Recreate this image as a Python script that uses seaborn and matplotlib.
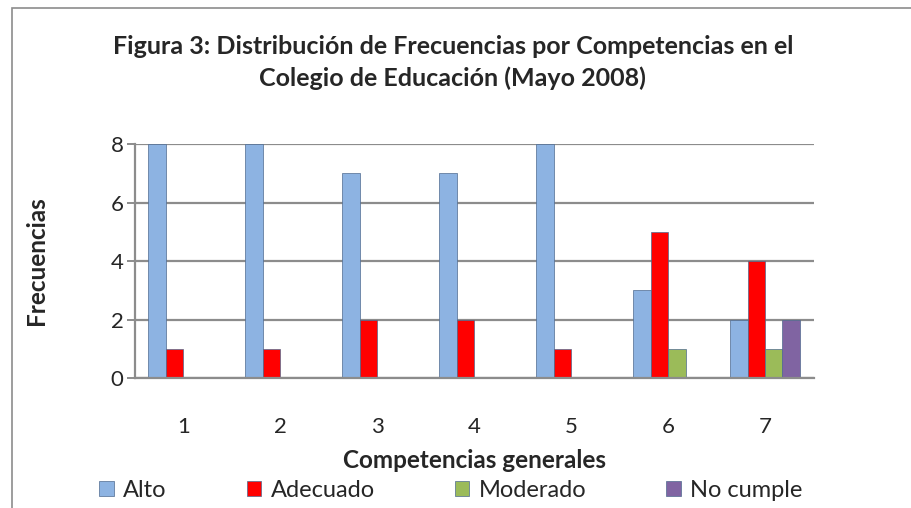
import pandas as pd
import numpy as np
import matplotlib
matplotlib.use('Agg')
import matplotlib.pyplot as plt
import seaborn as sns
from matplotlib.patches import Rectangle

# Datos
competencias = ['1', '2', '3', '4', '5', '6', '7']
alto = [8, 8, 7, 7, 8, 3, 2]
adecuado = [1, 1, 2, 2, 1, 5, 4]
moderado = [0, 0, 0, 0, 0, 1, 1]
no_cumple = [0, 0, 0, 0, 0, 0, 2]
niveles = ['Alto', 'Adecuado', 'Moderado', 'No cumple']
colores = ['#8DB3E2', '#FF0000', '#9BBB59', '#8064A2']

df = pd.DataFrame({'Competencia': competencias, 'Alto': alto, 'Adecuado': adecuado,
                   'Moderado': moderado, 'No cumple': no_cumple})
largo = df.melt(id_vars='Competencia', var_name='Nivel', value_name='Frecuencia')

sns.set_style('white')
plt.rcParams['font.family'] = ['Lato', 'DejaVu Sans']

fig = plt.figure(figsize=(9.11, 5.08), dpi=100, facecolor='white')
ax = fig.add_axes([0.148, 0.256, 0.745, 0.46])

sns.barplot(data=largo, x='Competencia', y='Frecuencia', hue='Nivel',
            hue_order=niveles, palette=colores, saturation=1, width=0.72, ax=ax,
            edgecolor='#4F6A8F', linewidth=0.5, legend=True)

# marco exterior del grafico
fig.patches.append(Rectangle((12 / 911, -0.1), 1.2, (500 / 508) + 0.1,
                             transform=fig.transFigure, fill=False,
                             edgecolor='#8C8C8C', linewidth=1.2))

ax.set_ylim(0, 8)
ax.set_xlim(-0.5, 6.5)
ax.set_yticks([0, 2, 4, 6, 8])
ax.yaxis.grid(True, color='#8C8C8C', linewidth=1.6)
ax.set_axisbelow(True)
for s in ['top', 'right']:
    ax.spines[s].set_visible(False)
for s in ['left', 'bottom']:
    ax.spines[s].set_color('#8C8C8C')
    ax.spines[s].set_linewidth(1.6)

ax.set_xticks(np.arange(-0.5, 7, 1), minor=True)
ax.tick_params(axis='x', which='major', length=0, labelsize=16, pad=28)
ax.tick_params(axis='x', which='minor', length=7, color='#8C8C8C', width=1.4, direction='out')
ax.tick_params(axis='y', length=6, color='#8C8C8C', width=1.4, direction='out', labelsize=16,
              left=True, pad=2)

ax.set_xlabel('Competencias generales', fontsize=17.5, fontweight='bold', labelpad=9)
ax.set_ylabel('Frecuencias', fontsize=17.5, fontweight='bold', labelpad=45)

fig.text(0.497, 0.877, 'Figura 3: Distribución de Frecuencias por Competencias en el\nColegio de Educación (Mayo 2008)',
         ha='center', va='center', fontsize=18, fontweight='bold', linespacing=1.45)

ax.legend(loc='center', bbox_to_anchor=(0.495, 0.035), bbox_transform=fig.transFigure,
          ncol=4, frameon=False, fontsize=17, handlelength=0.6, handleheight=0.6,
          handletextpad=0.4, columnspacing=3.4)

plt.savefig('out.png', dpi=100, facecolor='white')
